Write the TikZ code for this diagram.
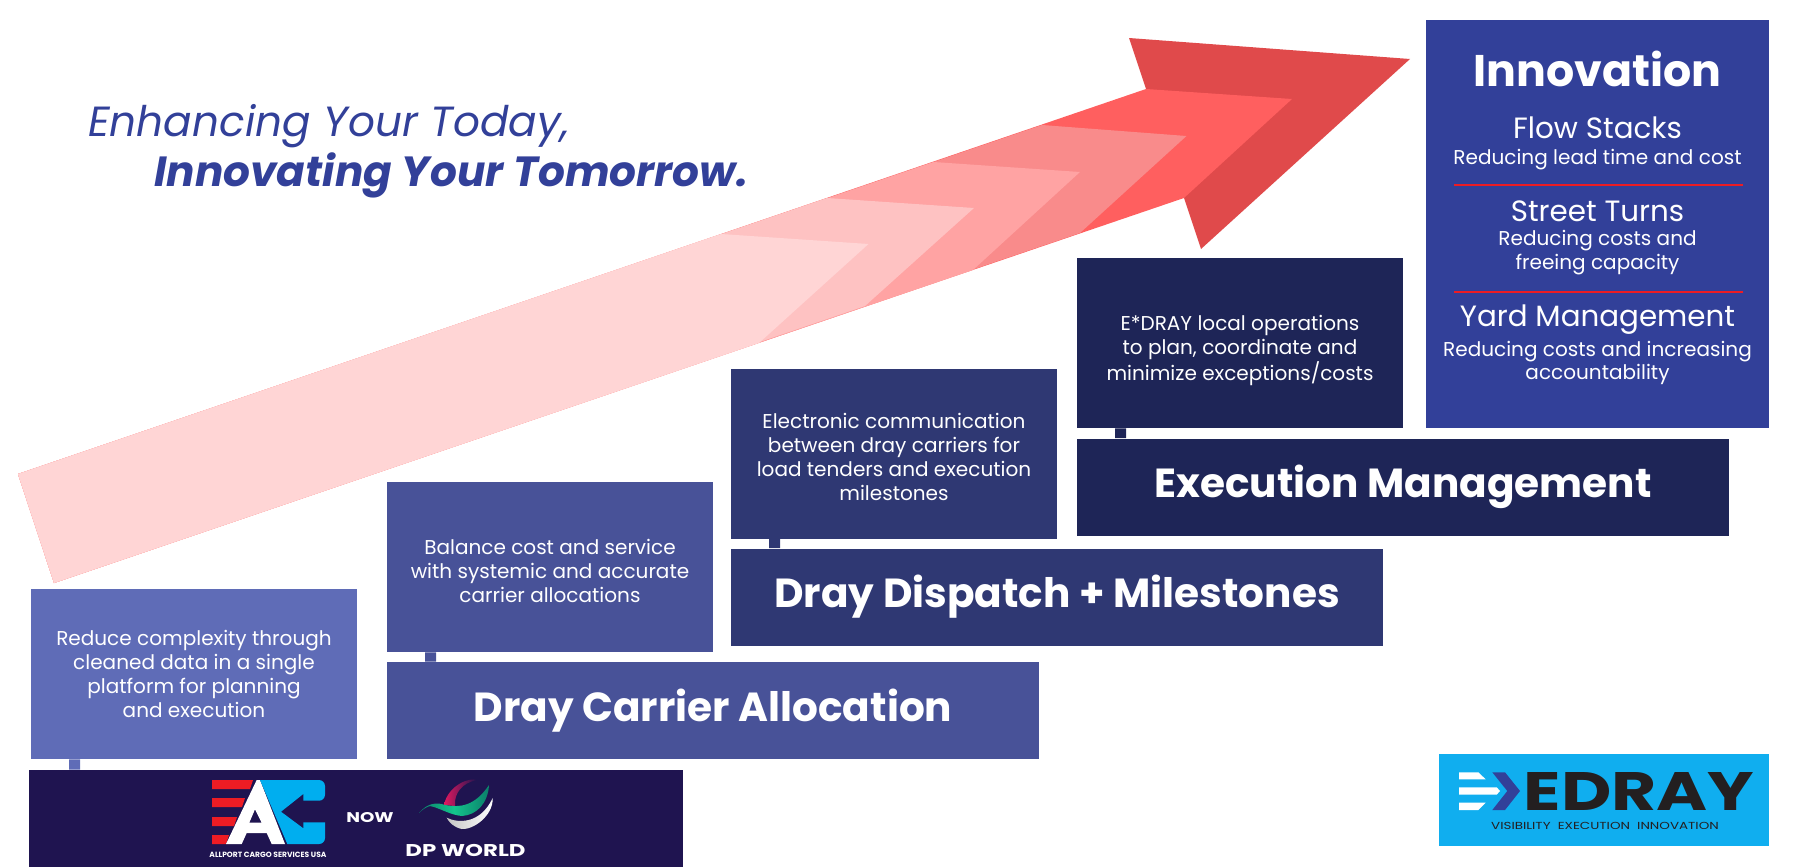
\documentclass[tikz,border=0pt]{standalone}
\usepackage{fontspec}
\setmainfont{Poppins}
\usepackage{xcolor}
\usetikzlibrary{positioning, calc}
\definecolor{levelA}{HTML}{5F6CB7}
\definecolor{levelB}{HTML}{485298}
\definecolor{levelC}{HTML}{2F3873}
\definecolor{levelD}{HTML}{1E2557}
\definecolor{innov}{HTML}{324099}
\definecolor{banner}{HTML}{1F1450}
\definecolor{logoblue}{HTML}{10AEEF}
\definecolor{acblue}{HTML}{00AEEF}
\definecolor{rulered}{HTML}{ED1C24}
\definecolor{logodark}{HTML}{231F20}
\definecolor{dpmagenta}{HTML}{E0195F}
\definecolor{dpgreen}{HTML}{14C48C}
\definecolor{dpteal}{HTML}{0B7F6A}
\definecolor{chevA}{HTML}{FFD5D5}
\definecolor{chevB}{HTML}{FEC2C2}
\definecolor{chevC}{HTML}{FFA3A3}
\definecolor{chevD}{HTML}{F98B8B}
\definecolor{chevE}{HTML}{FF5F5F}
\definecolor{chevF}{HTML}{E04A4B}
\newcommand{\pushdown}[1]{\rule{0pt}{#1}}
\tikzset{
  descbox/.style={minimum width=6.52cm, minimum height=3.4cm, inner sep=0pt, align=center, text=white, font=\fontsize{11.4}{13.6}\selectfont},
  barbox/.style={minimum width=13.04cm, minimum height=1.94cm, inner sep=0pt, text=white, font=\fontsize{23.1}{27}\selectfont\bfseries},
  tabline/.style={line width=2.2mm},
  headtext/.style={inner sep=0pt, text=white, font=\fontsize{16.7}{20}\selectfont},
  subtext/.style={inner sep=0pt, align=center, text=white, font=\fontsize{11.4}{13.6}\selectfont},
  slogan/.style={anchor=base west, inner sep=0pt, text=innov, font=\fontsize{24}{28}\selectfont\itshape},
  logotext/.style={inner sep=0pt, text=white},
  redrule/.style={draw=rulered, line width=0.4mm}
}
\begin{document}
\begin{tikzpicture}[x=0.2mm, y=-0.2mm]
        \useasboundingbox (0,0) rectangle (1800,867);

        % Rising arrow
        \fill[chevF] (1410,59) -- (1129,38) -- (1146,89) -- (1184,198) -- (1201,249) -- cycle;
        \foreach \topx/\topy/\tipx/\tipy/\botx/\boty/\col in {
            1146/89/1292/99/1184/198/chevE,
            1042/125/1186.5/136/1080/233/chevD,
            933.6/162/1080/172/973/270/chevC,
            827/198/974/208/865/306/chevB,
            721/234/868.5/244/759/343/chevA}
          \fill[\col] (18,474) -- (\topx,\topy) -- (\tipx,\tipy) -- (\botx,\boty) -- (54,583) -- cycle;

        % Slogan
        \node[slogan] (sloganA) at (88,136.5) {Enhancing Your Today,};
        \node[slogan, font=\fontsize{24}{28}\selectfont\itshape\bfseries] (sloganB) at (154,186) {Innovating Your Tomorrow.};

        % Description boxes
        \node[descbox, fill=levelA] (descA) at (194,674) {Reduce complexity through\\cleaned data in a single\\platform for planning\\and execution};
        \node[descbox, fill=levelB] (descB) at (550,567) {\pushdown{13pt}Balance cost and service\\with systemic and accurate\\carrier allocations};
        \node[descbox, fill=levelC] (descC) at (894,453.5) {\pushdown{13pt}Electronic communication\\between dray carriers for\\load tenders and execution\\milestones};
        \node[descbox, fill=levelD] (descD) at (1240,343) {\pushdown{17pt}E*DRAY local operations\\to plan, coordinate and\\minimize exceptions/costs};

        % Bars
        \node[barbox, fill=levelB] (barB) at (713,710.5) {Dray Carrier Allocation};
        \node[barbox, fill=levelC] (barC) at (1057,597) {Dray Dispatch + Milestones};
        \node[barbox, fill=levelD] (barD) at (1403,487) {Execution Management};
        \node[minimum width=13.08cm, minimum height=1.94cm, inner sep=0pt, fill=banner] (banner) at (356,818.5) {};

        % Tabs
        \draw[tabline, levelA] ([xshift=8.8mm]descA.south west) -- ([xshift=9.2mm]banner.north west);
        \draw[tabline, levelB] ([xshift=8.8mm]descB.south west) -- ([xshift=8.8mm]barB.north west);
        \draw[tabline, levelC] ([xshift=8.8mm]descC.south west) -- ([xshift=8.8mm]barC.north west);
        \draw[tabline, levelD] ([xshift=8.8mm]descD.south west) -- ([xshift=8.8mm]barD.north west);

        % Innovation
        \node[minimum width=6.86cm, minimum height=8.16cm, inner sep=0pt, fill=innov] (innovbox) at (1597.5,224) {};
        \node[headtext, font=\fontsize{25.2}{30}\selectfont\bfseries] (innovtitle) at (1597.5,69) {Innovation};
        \node[headtext] (flow) at (1597.5,128) {Flow Stacks};
        \node[subtext] (flowsub) at (1597.5,160) {Reducing lead time and cost};
        \node[headtext] (street) at (1597.5,211) {Street Turns};
        \node[subtext] (streetsub) at (1597.5,253) {Reducing costs and\\freeing capacity};
        \node[headtext] (yard) at (1597.5,320) {Yard Management};
        \node[subtext] (yardsub) at (1597.5,363) {Reducing costs and increasing\\accountability};
        \draw[redrule] (1454,184.7) -- (1743,184.7);
        \draw[redrule] (1454,292) -- (1743,292);

        % Allport mark
        \fill[rulered] (212,780) -- (253,780) -- (250,789) -- (212,789) -- cycle;
        \fill[rulered] (212,798) -- (245,798) -- (242,807) -- (212,807) -- cycle;
        \fill[rulered] (212,817) -- (237,817) -- (234,826) -- (212,826) -- cycle;
        \fill[rulered] (212,835) -- (229,835) -- (226,844) -- (212,844) -- cycle;
        \fill[white, even odd rule] (226,844) -- (256.7,780) -- (260,780) -- (285,844) -- (271.7,844) -- (266.7,833) -- (246.7,833) -- (241.7,844) -- cycle
              (255,809.3) -- (261.7,822.7) -- (249.3,822.7) -- cycle;
        \fill[acblue] (260,780) [rounded corners=1.2mm] -- (325,780) -- (325,800.7) [sharp corners] -- (303.3,800.7) -- (303.3,794) -- (281,811.7) -- (303.3,828.3) -- (303.3,822.3) -- (325,822.3) [rounded corners=1.2mm] -- (325,844) [sharp corners] -- (287.3,844) -- cycle;
        \node[logotext, font=\fontsize{4.3}{6}\selectfont\bfseries] (acname) at (268,854.7) {ALLPORT CARGO SERVICES USA};
        \node[logotext, font=\fontsize{8}{10}\selectfont\bfseries\addfontfeature{FakeStretch=1.3}] (nowlabel) at (370,818) {NOW};

        % DP World mark
        \shade[left color=white!55!gray, right color=white] (492.7,798) .. controls (493.3,816) and (473,830) .. (461.7,829) .. controls (453,827) and (449,822) .. (446.7,817.7) .. controls (457,823) and (480,825) .. cycle;
        \shade[left color=dpmagenta, middle color=dpmagenta!85!banner, right color=banner] (444,805) .. controls (448,785) and (470,777) .. (477,780) .. controls (462,783) and (454,793) .. (455,806) -- cycle;
        \shade[left color=dpteal, right color=dpteal, middle color=dpgreen] (419,813) .. controls (427,803) and (437,802) .. (445,805) .. controls (460,808) and (475,806) .. (489,785) .. controls (488,803) and (477,815) .. (462,816) .. controls (450,815) and (440,808) .. (430,806) .. controls (426,807) and (422,810) .. cycle;
        \node[logotext, font=\fontsize{9.7}{12}\selectfont\bfseries\addfontfeature{FakeStretch=1.34}] (dpname) at (465.5,850.7) {DP WORLD};

        % Edray logo
        \node[minimum width=6.6cm, minimum height=1.84cm, inner sep=0pt, fill=logoblue] (edraybox) at (1604,800) {};
        \fill[white] (1459,772.3) -- (1478.3,772.3) -- (1485.7,779.3) -- (1459,779.3) -- cycle;
        \fill[white] (1459,787.3) -- (1496.7,787.3) -- (1500,791) -- (1496.7,794.7) -- (1459,794.7) -- cycle;
        \fill[white] (1459,802.7) -- (1485.7,802.7) -- (1478.3,810) -- (1459,810) -- cycle;
        \fill[innov] (1492.3,772.3) -- (1505,772.3) -- (1520,791) -- (1505,810) -- (1492.3,810) -- (1507.3,791) -- cycle;
        \node[logotext, text=logodark, font=\fontsize{30.8}{36}\selectfont\bfseries\addfontfeature{FakeStretch=1.28}] (edrayname) at (1639,791) {EDRAY};
        \node[logotext, text=logodark, font=\fontsize{5.8}{7}\selectfont\addfontfeature{FakeStretch=1.32}] (edraytag) at (1605,826) {VISIBILITY~~EXECUTION~~INNOVATION};
    \end{tikzpicture}
\end{document}
